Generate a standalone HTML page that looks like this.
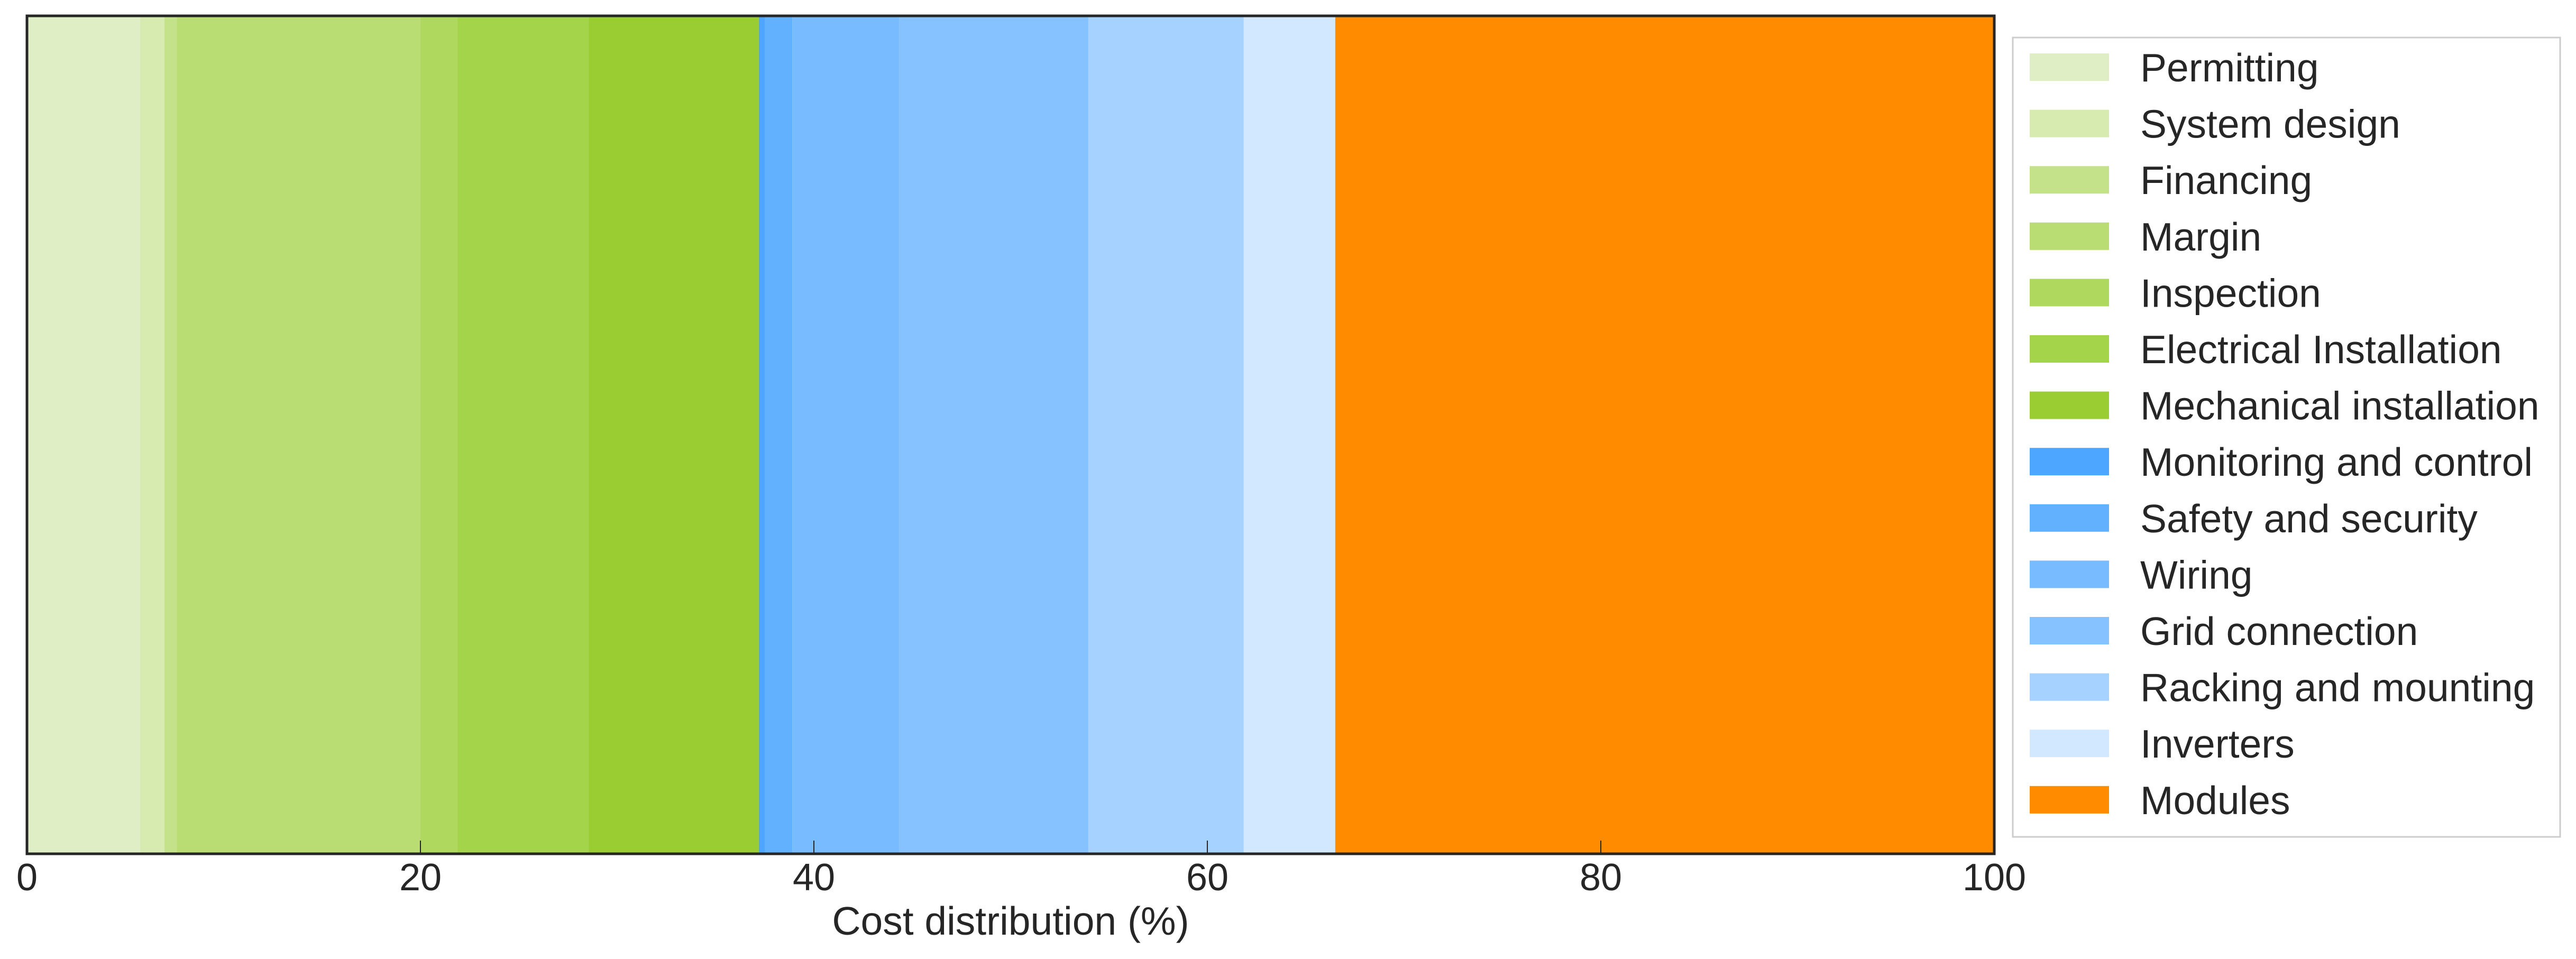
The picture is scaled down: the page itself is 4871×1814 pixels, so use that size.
<!DOCTYPE html>
<html><head><meta charset="utf-8"><style>
html,body{margin:0;padding:0;background:#fff;}
svg{display:block;font-family:"Liberation Sans",sans-serif;}
</style></head><body>
<svg id="chart" width="4871" height="1814" viewBox="0 0 4871 1814" xmlns="http://www.w3.org/2000/svg">
<g id="bars"></g>
<g id="ticks"></g>
<rect x="51" y="30" width="3720" height="1585" fill="none" stroke="#262626" stroke-width="5"/>
<text x="1911" y="1768" font-size="75" text-anchor="middle" fill="#262626">Cost distribution (%)</text>
<g id="legend">
<rect x="3806" y="71" width="1035" height="1512" fill="#fff" stroke="#cccccc" stroke-width="3"/>
</g>
</svg>
<script>
const categories = ["Permitting","System design","Financing","Margin","Inspection","Electrical Installation","Mechanical installation","Monitoring and control","Safety and security","Wiring","Grid connection","Racking and mounting","Inverters","Modules"];
const values = [5.75,1.24,0.62,12.39,1.88,6.67,8.65,0.3,1.4,5.45,9.6,7.9,4.65,33.5];
const colors = ["#e0eec5","#d7eab0","#c4e28a","#b9dd73","#afd85e","#a3d44a","#9acd32","#4da6ff","#62b1ff","#79bbff","#86c2ff","#a6d2ff","#d2e8fe","#ff8c00"];
const tickValues = [0,20,40,60,80,100];
const tickLabels = ["0","20","40","60","80","100"];
const NS="http://www.w3.org/2000/svg";
const X0=51,X1=3771,Y0=30,Y1=1615;
function xs(v){return X0+(v/100)*(X1-X0);}
const bars=document.getElementById('bars');
let cum=0;
values.forEach((v,i)=>{
  const r=document.createElementNS(NS,'rect');
  r.setAttribute('x',xs(cum));r.setAttribute('width',xs(cum+v)-xs(cum));
  r.setAttribute('y',Y0);r.setAttribute('height',Y1-Y0);
  r.setAttribute('fill',colors[i]);
  
  
  bars.appendChild(r);cum+=v;
});
const tg=document.getElementById('ticks');
tickValues.forEach((t,i)=>{
  const l=document.createElementNS(NS,'line');
  l.setAttribute('x1',xs(t));l.setAttribute('x2',xs(t));l.setAttribute('y1',Y1-25);l.setAttribute('y2',Y1);
  l.setAttribute('stroke','#262626');l.setAttribute('stroke-width','2');
  
  
  tg.appendChild(l);
  const tx=document.createElementNS(NS,'text');
  tx.setAttribute('x',xs(t));tx.setAttribute('y',1684);tx.setAttribute('font-size','72');
  tx.setAttribute('text-anchor','middle');tx.setAttribute('fill','#262626');
  tx.textContent=tickLabels[i];
  
  
  tg.appendChild(tx);
});
const lg=document.getElementById('legend');
categories.forEach((c,i)=>{
  const cy=127+i*106.6;
  const g=document.createElementNS(NS,'g');
  
  
  const s=document.createElementNS(NS,'rect');
  s.setAttribute('x',3838);s.setAttribute('y',cy-26);s.setAttribute('width',150);s.setAttribute('height',52);
  s.setAttribute('fill',colors[i]);
  
  
  g.appendChild(s);
  const t=document.createElementNS(NS,'text');
  t.setAttribute('x',4047);t.setAttribute('y',cy+27);t.setAttribute('font-size','75');t.setAttribute('fill','#262626');
  t.textContent=c;
  
  
  g.appendChild(t);
  lg.appendChild(g);
});
</script>
</body></html>
